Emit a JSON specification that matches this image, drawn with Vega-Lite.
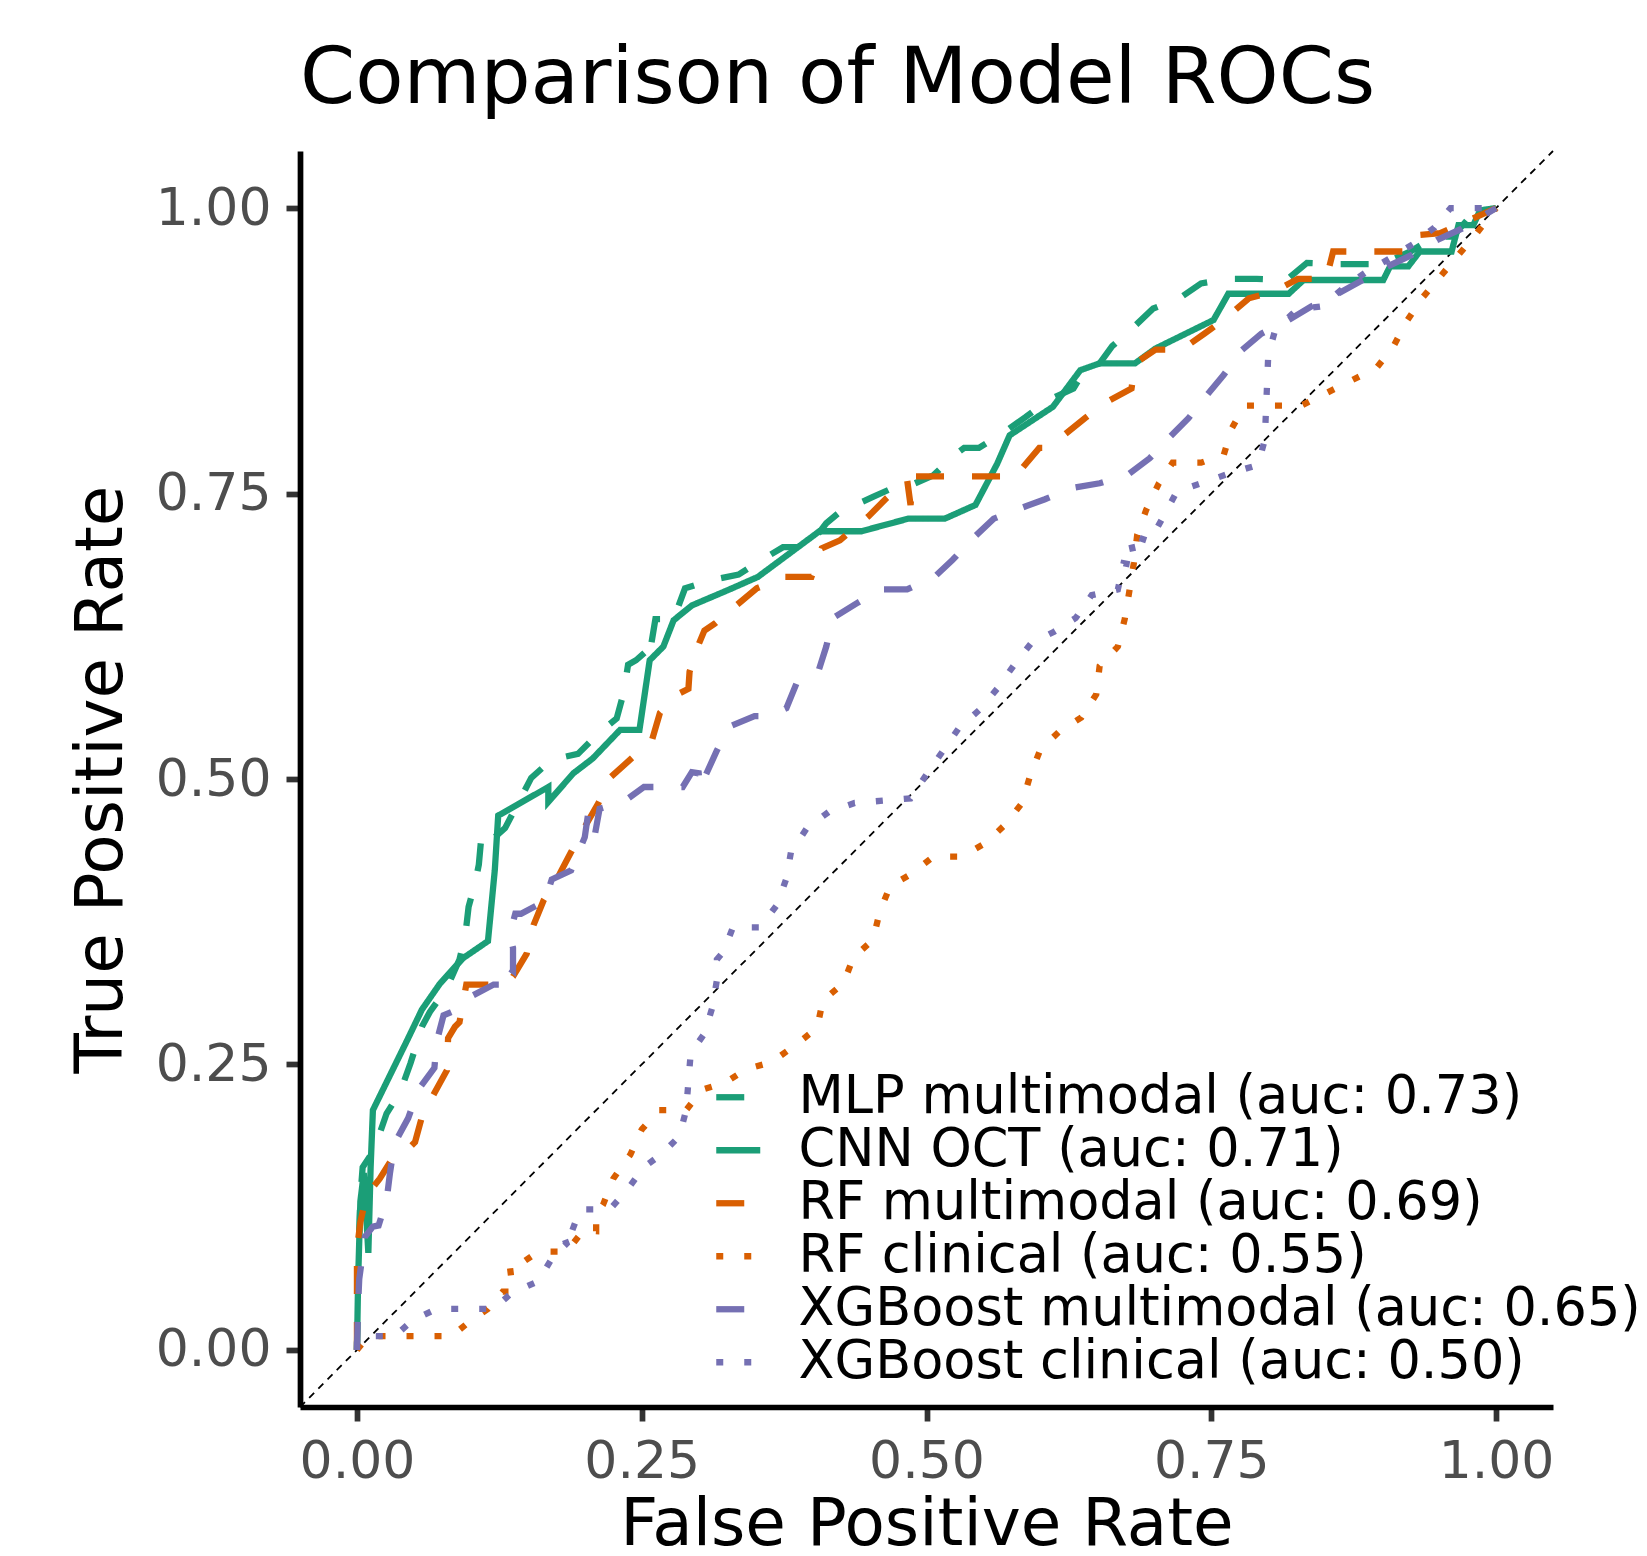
{
  "$schema": "https://vega.github.io/schema/vega-lite/v6.json",
  "width": 1253,
  "height": 1256,
  "autosize": {"type": "none"},
  "padding": {"left": 300, "top": 151, "right": 94, "bottom": 149},
  "background": "white",
  "title": {"text": "Comparison of Model ROCs", "anchor": "start", "frame": "group", "fontSize": 79, "font": "DejaVu Sans", "fontWeight": "normal", "color": "black", "baseline": "alphabetic", "offset": 30, "dy": 65},
  "config": {"view": {"stroke": null}, "font": "DejaVu Sans", "axis": {"grid": false}},
  "datasets": {
    "diag": [{"x": -0.05, "y": -0.05}, {"x": 1.05, "y": 1.05}],
    "roc": [
      {"m": "MLP multimodal (auc: 0.73)", "i": 0, "x": 0, "y": 0},
      {"m": "MLP multimodal (auc: 0.73)", "i": 1, "x": 0.001, "y": 0.07},
      {"m": "MLP multimodal (auc: 0.73)", "i": 2, "x": 0.003, "y": 0.134},
      {"m": "MLP multimodal (auc: 0.73)", "i": 3, "x": 0.005, "y": 0.16},
      {"m": "MLP multimodal (auc: 0.73)", "i": 4, "x": 0.015, "y": 0.175},
      {"m": "MLP multimodal (auc: 0.73)", "i": 5, "x": 0.026, "y": 0.207},
      {"m": "MLP multimodal (auc: 0.73)", "i": 6, "x": 0.038, "y": 0.226},
      {"m": "MLP multimodal (auc: 0.73)", "i": 7, "x": 0.047, "y": 0.251},
      {"m": "MLP multimodal (auc: 0.73)", "i": 8, "x": 0.054, "y": 0.273},
      {"m": "MLP multimodal (auc: 0.73)", "i": 9, "x": 0.057, "y": 0.283},
      {"m": "MLP multimodal (auc: 0.73)", "i": 10, "x": 0.064, "y": 0.296},
      {"m": "MLP multimodal (auc: 0.73)", "i": 11, "x": 0.079, "y": 0.317},
      {"m": "MLP multimodal (auc: 0.73)", "i": 12, "x": 0.090, "y": 0.342},
      {"m": "MLP multimodal (auc: 0.73)", "i": 13, "x": 0.095, "y": 0.362},
      {"m": "MLP multimodal (auc: 0.73)", "i": 14, "x": 0.098, "y": 0.388},
      {"m": "MLP multimodal (auc: 0.73)", "i": 15, "x": 0.104, "y": 0.410},
      {"m": "MLP multimodal (auc: 0.73)", "i": 16, "x": 0.107, "y": 0.425},
      {"m": "MLP multimodal (auc: 0.73)", "i": 17, "x": 0.109, "y": 0.447},
      {"m": "MLP multimodal (auc: 0.73)", "i": 18, "x": 0.111, "y": 0.440},
      {"m": "MLP multimodal (auc: 0.73)", "i": 19, "x": 0.130, "y": 0.457},
      {"m": "MLP multimodal (auc: 0.73)", "i": 20, "x": 0.140, "y": 0.476},
      {"m": "MLP multimodal (auc: 0.73)", "i": 21, "x": 0.153, "y": 0.501},
      {"m": "MLP multimodal (auc: 0.73)", "i": 22, "x": 0.171, "y": 0.517},
      {"m": "MLP multimodal (auc: 0.73)", "i": 23, "x": 0.194, "y": 0.522},
      {"m": "MLP multimodal (auc: 0.73)", "i": 24, "x": 0.212, "y": 0.540},
      {"m": "MLP multimodal (auc: 0.73)", "i": 25, "x": 0.228, "y": 0.553},
      {"m": "MLP multimodal (auc: 0.73)", "i": 26, "x": 0.234, "y": 0.575},
      {"m": "MLP multimodal (auc: 0.73)", "i": 27, "x": 0.238, "y": 0.600},
      {"m": "MLP multimodal (auc: 0.73)", "i": 28, "x": 0.245, "y": 0.604},
      {"m": "MLP multimodal (auc: 0.73)", "i": 29, "x": 0.253, "y": 0.611},
      {"m": "MLP multimodal (auc: 0.73)", "i": 30, "x": 0.256, "y": 0.604},
      {"m": "MLP multimodal (auc: 0.73)", "i": 31, "x": 0.262, "y": 0.640},
      {"m": "MLP multimodal (auc: 0.73)", "i": 32, "x": 0.278, "y": 0.640},
      {"m": "MLP multimodal (auc: 0.73)", "i": 33, "x": 0.288, "y": 0.667},
      {"m": "MLP multimodal (auc: 0.73)", "i": 34, "x": 0.310, "y": 0.674},
      {"m": "MLP multimodal (auc: 0.73)", "i": 35, "x": 0.335, "y": 0.679},
      {"m": "MLP multimodal (auc: 0.73)", "i": 36, "x": 0.352, "y": 0.690},
      {"m": "MLP multimodal (auc: 0.73)", "i": 37, "x": 0.374, "y": 0.703},
      {"m": "MLP multimodal (auc: 0.73)", "i": 38, "x": 0.396, "y": 0.703},
      {"m": "MLP multimodal (auc: 0.73)", "i": 39, "x": 0.412, "y": 0.724},
      {"m": "MLP multimodal (auc: 0.73)", "i": 40, "x": 0.424, "y": 0.734},
      {"m": "MLP multimodal (auc: 0.73)", "i": 41, "x": 0.453, "y": 0.747},
      {"m": "MLP multimodal (auc: 0.73)", "i": 42, "x": 0.475, "y": 0.757},
      {"m": "MLP multimodal (auc: 0.73)", "i": 43, "x": 0.490, "y": 0.759},
      {"m": "MLP multimodal (auc: 0.73)", "i": 44, "x": 0.506, "y": 0.766},
      {"m": "MLP multimodal (auc: 0.73)", "i": 45, "x": 0.525, "y": 0.784},
      {"m": "MLP multimodal (auc: 0.73)", "i": 46, "x": 0.533, "y": 0.790},
      {"m": "MLP multimodal (auc: 0.73)", "i": 47, "x": 0.546, "y": 0.790},
      {"m": "MLP multimodal (auc: 0.73)", "i": 48, "x": 0.567, "y": 0.803},
      {"m": "MLP multimodal (auc: 0.73)", "i": 49, "x": 0.587, "y": 0.817},
      {"m": "MLP multimodal (auc: 0.73)", "i": 50, "x": 0.607, "y": 0.832},
      {"m": "MLP multimodal (auc: 0.73)", "i": 51, "x": 0.629, "y": 0.842},
      {"m": "MLP multimodal (auc: 0.73)", "i": 52, "x": 0.640, "y": 0.860},
      {"m": "MLP multimodal (auc: 0.73)", "i": 53, "x": 0.652, "y": 0.864},
      {"m": "MLP multimodal (auc: 0.73)", "i": 54, "x": 0.663, "y": 0.879},
      {"m": "MLP multimodal (auc: 0.73)", "i": 55, "x": 0.680, "y": 0.894},
      {"m": "MLP multimodal (auc: 0.73)", "i": 56, "x": 0.699, "y": 0.912},
      {"m": "MLP multimodal (auc: 0.73)", "i": 57, "x": 0.722, "y": 0.921},
      {"m": "MLP multimodal (auc: 0.73)", "i": 58, "x": 0.741, "y": 0.934},
      {"m": "MLP multimodal (auc: 0.73)", "i": 59, "x": 0.765, "y": 0.938},
      {"m": "MLP multimodal (auc: 0.73)", "i": 60, "x": 0.790, "y": 0.938},
      {"m": "MLP multimodal (auc: 0.73)", "i": 61, "x": 0.816, "y": 0.937},
      {"m": "MLP multimodal (auc: 0.73)", "i": 62, "x": 0.834, "y": 0.952},
      {"m": "MLP multimodal (auc: 0.73)", "i": 63, "x": 0.860, "y": 0.951},
      {"m": "MLP multimodal (auc: 0.73)", "i": 64, "x": 0.900, "y": 0.951},
      {"m": "MLP multimodal (auc: 0.73)", "i": 65, "x": 0.925, "y": 0.962},
      {"m": "MLP multimodal (auc: 0.73)", "i": 66, "x": 0.946, "y": 0.975},
      {"m": "MLP multimodal (auc: 0.73)", "i": 67, "x": 0.962, "y": 0.975},
      {"m": "MLP multimodal (auc: 0.73)", "i": 68, "x": 0.975, "y": 0.990},
      {"m": "MLP multimodal (auc: 0.73)", "i": 69, "x": 1, "y": 1},

      {"m": "CNN OCT (auc: 0.71)", "i": 0, "x": 0, "y": 0},
      {"m": "CNN OCT (auc: 0.71)", "i": 1, "x": 0.001, "y": 0.06},
      {"m": "CNN OCT (auc: 0.71)", "i": 2, "x": 0.003, "y": 0.13},
      {"m": "CNN OCT (auc: 0.71)", "i": 3, "x": 0.006, "y": 0.155},
      {"m": "CNN OCT (auc: 0.71)", "i": 4, "x": 0.010, "y": 0.085},
      {"m": "CNN OCT (auc: 0.71)", "i": 5, "x": 0.012, "y": 0.16},
      {"m": "CNN OCT (auc: 0.71)", "i": 6, "x": 0.014, "y": 0.21},
      {"m": "CNN OCT (auc: 0.71)", "i": 7, "x": 0.044, "y": 0.271},
      {"m": "CNN OCT (auc: 0.71)", "i": 8, "x": 0.057, "y": 0.298},
      {"m": "CNN OCT (auc: 0.71)", "i": 9, "x": 0.073, "y": 0.321},
      {"m": "CNN OCT (auc: 0.71)", "i": 10, "x": 0.093, "y": 0.343},
      {"m": "CNN OCT (auc: 0.71)", "i": 11, "x": 0.115, "y": 0.358},
      {"m": "CNN OCT (auc: 0.71)", "i": 12, "x": 0.121, "y": 0.420},
      {"m": "CNN OCT (auc: 0.71)", "i": 13, "x": 0.124, "y": 0.468},
      {"m": "CNN OCT (auc: 0.71)", "i": 14, "x": 0.140, "y": 0.477},
      {"m": "CNN OCT (auc: 0.71)", "i": 15, "x": 0.168, "y": 0.493},
      {"m": "CNN OCT (auc: 0.71)", "i": 16, "x": 0.168, "y": 0.480},
      {"m": "CNN OCT (auc: 0.71)", "i": 17, "x": 0.190, "y": 0.505},
      {"m": "CNN OCT (auc: 0.71)", "i": 18, "x": 0.207, "y": 0.518},
      {"m": "CNN OCT (auc: 0.71)", "i": 19, "x": 0.231, "y": 0.543},
      {"m": "CNN OCT (auc: 0.71)", "i": 20, "x": 0.248, "y": 0.543},
      {"m": "CNN OCT (auc: 0.71)", "i": 21, "x": 0.257, "y": 0.604},
      {"m": "CNN OCT (auc: 0.71)", "i": 22, "x": 0.269, "y": 0.616},
      {"m": "CNN OCT (auc: 0.71)", "i": 23, "x": 0.278, "y": 0.639},
      {"m": "CNN OCT (auc: 0.71)", "i": 24, "x": 0.294, "y": 0.652},
      {"m": "CNN OCT (auc: 0.71)", "i": 25, "x": 0.327, "y": 0.666},
      {"m": "CNN OCT (auc: 0.71)", "i": 26, "x": 0.352, "y": 0.677},
      {"m": "CNN OCT (auc: 0.71)", "i": 27, "x": 0.406, "y": 0.717},
      {"m": "CNN OCT (auc: 0.71)", "i": 28, "x": 0.443, "y": 0.717},
      {"m": "CNN OCT (auc: 0.71)", "i": 29, "x": 0.484, "y": 0.728},
      {"m": "CNN OCT (auc: 0.71)", "i": 30, "x": 0.516, "y": 0.728},
      {"m": "CNN OCT (auc: 0.71)", "i": 31, "x": 0.543, "y": 0.740},
      {"m": "CNN OCT (auc: 0.71)", "i": 32, "x": 0.562, "y": 0.776},
      {"m": "CNN OCT (auc: 0.71)", "i": 33, "x": 0.573, "y": 0.801},
      {"m": "CNN OCT (auc: 0.71)", "i": 34, "x": 0.611, "y": 0.826},
      {"m": "CNN OCT (auc: 0.71)", "i": 35, "x": 0.635, "y": 0.858},
      {"m": "CNN OCT (auc: 0.71)", "i": 36, "x": 0.652, "y": 0.864},
      {"m": "CNN OCT (auc: 0.71)", "i": 37, "x": 0.683, "y": 0.864},
      {"m": "CNN OCT (auc: 0.71)", "i": 38, "x": 0.701, "y": 0.877},
      {"m": "CNN OCT (auc: 0.71)", "i": 39, "x": 0.752, "y": 0.902},
      {"m": "CNN OCT (auc: 0.71)", "i": 40, "x": 0.765, "y": 0.925},
      {"m": "CNN OCT (auc: 0.71)", "i": 41, "x": 0.818, "y": 0.925},
      {"m": "CNN OCT (auc: 0.71)", "i": 42, "x": 0.831, "y": 0.937},
      {"m": "CNN OCT (auc: 0.71)", "i": 43, "x": 0.901, "y": 0.937},
      {"m": "CNN OCT (auc: 0.71)", "i": 44, "x": 0.907, "y": 0.949},
      {"m": "CNN OCT (auc: 0.71)", "i": 45, "x": 0.923, "y": 0.949},
      {"m": "CNN OCT (auc: 0.71)", "i": 46, "x": 0.933, "y": 0.962},
      {"m": "CNN OCT (auc: 0.71)", "i": 47, "x": 0.961, "y": 0.962},
      {"m": "CNN OCT (auc: 0.71)", "i": 48, "x": 0.967, "y": 0.985},
      {"m": "CNN OCT (auc: 0.71)", "i": 49, "x": 0.980, "y": 0.985},
      {"m": "CNN OCT (auc: 0.71)", "i": 50, "x": 0.986, "y": 0.998},
      {"m": "CNN OCT (auc: 0.71)", "i": 51, "x": 1, "y": 1},

      {"m": "RF multimodal (auc: 0.69)", "i": 0, "x": 0, "y": 0},
      {"m": "RF multimodal (auc: 0.69)", "i": 1, "x": 0.000, "y": 0.088},
      {"m": "RF multimodal (auc: 0.69)", "i": 2, "x": 0.003, "y": 0.112},
      {"m": "RF multimodal (auc: 0.69)", "i": 3, "x": 0.008, "y": 0.134},
      {"m": "RF multimodal (auc: 0.69)", "i": 4, "x": 0.012, "y": 0.140},
      {"m": "RF multimodal (auc: 0.69)", "i": 5, "x": 0.020, "y": 0.150},
      {"m": "RF multimodal (auc: 0.69)", "i": 6, "x": 0.032, "y": 0.169},
      {"m": "RF multimodal (auc: 0.69)", "i": 7, "x": 0.045, "y": 0.176},
      {"m": "RF multimodal (auc: 0.69)", "i": 8, "x": 0.051, "y": 0.182},
      {"m": "RF multimodal (auc: 0.69)", "i": 9, "x": 0.057, "y": 0.204},
      {"m": "RF multimodal (auc: 0.69)", "i": 10, "x": 0.068, "y": 0.225},
      {"m": "RF multimodal (auc: 0.69)", "i": 11, "x": 0.079, "y": 0.245},
      {"m": "RF multimodal (auc: 0.69)", "i": 12, "x": 0.080, "y": 0.273},
      {"m": "RF multimodal (auc: 0.69)", "i": 13, "x": 0.086, "y": 0.283},
      {"m": "RF multimodal (auc: 0.69)", "i": 14, "x": 0.090, "y": 0.287},
      {"m": "RF multimodal (auc: 0.69)", "i": 15, "x": 0.096, "y": 0.320},
      {"m": "RF multimodal (auc: 0.69)", "i": 16, "x": 0.117, "y": 0.320},
      {"m": "RF multimodal (auc: 0.69)", "i": 17, "x": 0.130, "y": 0.320},
      {"m": "RF multimodal (auc: 0.69)", "i": 18, "x": 0.137, "y": 0.327},
      {"m": "RF multimodal (auc: 0.69)", "i": 19, "x": 0.149, "y": 0.347},
      {"m": "RF multimodal (auc: 0.69)", "i": 20, "x": 0.155, "y": 0.372},
      {"m": "RF multimodal (auc: 0.69)", "i": 21, "x": 0.164, "y": 0.394},
      {"m": "RF multimodal (auc: 0.69)", "i": 22, "x": 0.178, "y": 0.417},
      {"m": "RF multimodal (auc: 0.69)", "i": 23, "x": 0.188, "y": 0.436},
      {"m": "RF multimodal (auc: 0.69)", "i": 24, "x": 0.200, "y": 0.458},
      {"m": "RF multimodal (auc: 0.69)", "i": 25, "x": 0.212, "y": 0.479},
      {"m": "RF multimodal (auc: 0.69)", "i": 26, "x": 0.222, "y": 0.501},
      {"m": "RF multimodal (auc: 0.69)", "i": 27, "x": 0.241, "y": 0.518},
      {"m": "RF multimodal (auc: 0.69)", "i": 28, "x": 0.259, "y": 0.534},
      {"m": "RF multimodal (auc: 0.69)", "i": 29, "x": 0.266, "y": 0.558},
      {"m": "RF multimodal (auc: 0.69)", "i": 30, "x": 0.281, "y": 0.574},
      {"m": "RF multimodal (auc: 0.69)", "i": 31, "x": 0.291, "y": 0.579},
      {"m": "RF multimodal (auc: 0.69)", "i": 32, "x": 0.292, "y": 0.594},
      {"m": "RF multimodal (auc: 0.69)", "i": 33, "x": 0.300, "y": 0.618},
      {"m": "RF multimodal (auc: 0.69)", "i": 34, "x": 0.305, "y": 0.630},
      {"m": "RF multimodal (auc: 0.69)", "i": 35, "x": 0.314, "y": 0.636},
      {"m": "RF multimodal (auc: 0.69)", "i": 36, "x": 0.333, "y": 0.652},
      {"m": "RF multimodal (auc: 0.69)", "i": 37, "x": 0.351, "y": 0.667},
      {"m": "RF multimodal (auc: 0.69)", "i": 38, "x": 0.376, "y": 0.677},
      {"m": "RF multimodal (auc: 0.69)", "i": 39, "x": 0.399, "y": 0.677},
      {"m": "RF multimodal (auc: 0.69)", "i": 40, "x": 0.408, "y": 0.702},
      {"m": "RF multimodal (auc: 0.69)", "i": 41, "x": 0.424, "y": 0.709},
      {"m": "RF multimodal (auc: 0.69)", "i": 42, "x": 0.449, "y": 0.730},
      {"m": "RF multimodal (auc: 0.69)", "i": 43, "x": 0.465, "y": 0.746},
      {"m": "RF multimodal (auc: 0.69)", "i": 44, "x": 0.483, "y": 0.762},
      {"m": "RF multimodal (auc: 0.69)", "i": 45, "x": 0.486, "y": 0.740},
      {"m": "RF multimodal (auc: 0.69)", "i": 46, "x": 0.488, "y": 0.765},
      {"m": "RF multimodal (auc: 0.69)", "i": 47, "x": 0.537, "y": 0.765},
      {"m": "RF multimodal (auc: 0.69)", "i": 48, "x": 0.579, "y": 0.765},
      {"m": "RF multimodal (auc: 0.69)", "i": 49, "x": 0.583, "y": 0.771},
      {"m": "RF multimodal (auc: 0.69)", "i": 50, "x": 0.599, "y": 0.790},
      {"m": "RF multimodal (auc: 0.69)", "i": 51, "x": 0.605, "y": 0.790},
      {"m": "RF multimodal (auc: 0.69)", "i": 52, "x": 0.618, "y": 0.799},
      {"m": "RF multimodal (auc: 0.69)", "i": 53, "x": 0.639, "y": 0.816},
      {"m": "RF multimodal (auc: 0.69)", "i": 54, "x": 0.656, "y": 0.829},
      {"m": "RF multimodal (auc: 0.69)", "i": 55, "x": 0.680, "y": 0.842},
      {"m": "RF multimodal (auc: 0.69)", "i": 56, "x": 0.683, "y": 0.864},
      {"m": "RF multimodal (auc: 0.69)", "i": 57, "x": 0.701, "y": 0.876},
      {"m": "RF multimodal (auc: 0.69)", "i": 58, "x": 0.724, "y": 0.876},
      {"m": "RF multimodal (auc: 0.69)", "i": 59, "x": 0.744, "y": 0.890},
      {"m": "RF multimodal (auc: 0.69)", "i": 60, "x": 0.762, "y": 0.903},
      {"m": "RF multimodal (auc: 0.69)", "i": 61, "x": 0.783, "y": 0.921},
      {"m": "RF multimodal (auc: 0.69)", "i": 62, "x": 0.805, "y": 0.927},
      {"m": "RF multimodal (auc: 0.69)", "i": 63, "x": 0.826, "y": 0.938},
      {"m": "RF multimodal (auc: 0.69)", "i": 64, "x": 0.851, "y": 0.938},
      {"m": "RF multimodal (auc: 0.69)", "i": 65, "x": 0.857, "y": 0.962},
      {"m": "RF multimodal (auc: 0.69)", "i": 66, "x": 0.919, "y": 0.962},
      {"m": "RF multimodal (auc: 0.69)", "i": 67, "x": 0.926, "y": 0.976},
      {"m": "RF multimodal (auc: 0.69)", "i": 68, "x": 0.951, "y": 0.978},
      {"m": "RF multimodal (auc: 0.69)", "i": 69, "x": 0.973, "y": 0.988},
      {"m": "RF multimodal (auc: 0.69)", "i": 70, "x": 1, "y": 1},

      {"m": "RF clinical (auc: 0.55)", "i": 0, "x": 0, "y": 0},
      {"m": "RF clinical (auc: 0.55)", "i": 1, "x": 0.010, "y": 0.012},
      {"m": "RF clinical (auc: 0.55)", "i": 2, "x": 0.083, "y": 0.012},
      {"m": "RF clinical (auc: 0.55)", "i": 3, "x": 0.099, "y": 0.025},
      {"m": "RF clinical (auc: 0.55)", "i": 4, "x": 0.115, "y": 0.036},
      {"m": "RF clinical (auc: 0.55)", "i": 5, "x": 0.128, "y": 0.051},
      {"m": "RF clinical (auc: 0.55)", "i": 6, "x": 0.137, "y": 0.051},
      {"m": "RF clinical (auc: 0.55)", "i": 7, "x": 0.134, "y": 0.075},
      {"m": "RF clinical (auc: 0.55)", "i": 8, "x": 0.143, "y": 0.075},
      {"m": "RF clinical (auc: 0.55)", "i": 9, "x": 0.159, "y": 0.086},
      {"m": "RF clinical (auc: 0.55)", "i": 10, "x": 0.184, "y": 0.086},
      {"m": "RF clinical (auc: 0.55)", "i": 11, "x": 0.199, "y": 0.105},
      {"m": "RF clinical (auc: 0.55)", "i": 12, "x": 0.210, "y": 0.104},
      {"m": "RF clinical (auc: 0.55)", "i": 13, "x": 0.210, "y": 0.118},
      {"m": "RF clinical (auc: 0.55)", "i": 14, "x": 0.216, "y": 0.127},
      {"m": "RF clinical (auc: 0.55)", "i": 15, "x": 0.225, "y": 0.150},
      {"m": "RF clinical (auc: 0.55)", "i": 16, "x": 0.240, "y": 0.171},
      {"m": "RF clinical (auc: 0.55)", "i": 17, "x": 0.250, "y": 0.193},
      {"m": "RF clinical (auc: 0.55)", "i": 18, "x": 0.265, "y": 0.210},
      {"m": "RF clinical (auc: 0.55)", "i": 19, "x": 0.289, "y": 0.210},
      {"m": "RF clinical (auc: 0.55)", "i": 20, "x": 0.303, "y": 0.228},
      {"m": "RF clinical (auc: 0.55)", "i": 21, "x": 0.323, "y": 0.234},
      {"m": "RF clinical (auc: 0.55)", "i": 22, "x": 0.342, "y": 0.246},
      {"m": "RF clinical (auc: 0.55)", "i": 23, "x": 0.364, "y": 0.252},
      {"m": "RF clinical (auc: 0.55)", "i": 24, "x": 0.385, "y": 0.267},
      {"m": "RF clinical (auc: 0.55)", "i": 25, "x": 0.404, "y": 0.282},
      {"m": "RF clinical (auc: 0.55)", "i": 26, "x": 0.409, "y": 0.306},
      {"m": "RF clinical (auc: 0.55)", "i": 27, "x": 0.427, "y": 0.321},
      {"m": "RF clinical (auc: 0.55)", "i": 28, "x": 0.436, "y": 0.344},
      {"m": "RF clinical (auc: 0.55)", "i": 29, "x": 0.453, "y": 0.359},
      {"m": "RF clinical (auc: 0.55)", "i": 30, "x": 0.459, "y": 0.384},
      {"m": "RF clinical (auc: 0.55)", "i": 31, "x": 0.468, "y": 0.406},
      {"m": "RF clinical (auc: 0.55)", "i": 32, "x": 0.487, "y": 0.417},
      {"m": "RF clinical (auc: 0.55)", "i": 33, "x": 0.506, "y": 0.432},
      {"m": "RF clinical (auc: 0.55)", "i": 34, "x": 0.531, "y": 0.432},
      {"m": "RF clinical (auc: 0.55)", "i": 35, "x": 0.552, "y": 0.444},
      {"m": "RF clinical (auc: 0.55)", "i": 36, "x": 0.569, "y": 0.460},
      {"m": "RF clinical (auc: 0.55)", "i": 37, "x": 0.584, "y": 0.479},
      {"m": "RF clinical (auc: 0.55)", "i": 38, "x": 0.591, "y": 0.503},
      {"m": "RF clinical (auc: 0.55)", "i": 39, "x": 0.600, "y": 0.526},
      {"m": "RF clinical (auc: 0.55)", "i": 40, "x": 0.617, "y": 0.542},
      {"m": "RF clinical (auc: 0.55)", "i": 41, "x": 0.636, "y": 0.554},
      {"m": "RF clinical (auc: 0.55)", "i": 42, "x": 0.649, "y": 0.574},
      {"m": "RF clinical (auc: 0.55)", "i": 43, "x": 0.652, "y": 0.599},
      {"m": "RF clinical (auc: 0.55)", "i": 44, "x": 0.668, "y": 0.616},
      {"m": "RF clinical (auc: 0.55)", "i": 45, "x": 0.674, "y": 0.640},
      {"m": "RF clinical (auc: 0.55)", "i": 46, "x": 0.678, "y": 0.664},
      {"m": "RF clinical (auc: 0.55)", "i": 47, "x": 0.682, "y": 0.689},
      {"m": "RF clinical (auc: 0.55)", "i": 48, "x": 0.685, "y": 0.714},
      {"m": "RF clinical (auc: 0.55)", "i": 49, "x": 0.693, "y": 0.736},
      {"m": "RF clinical (auc: 0.55)", "i": 50, "x": 0.704, "y": 0.759},
      {"m": "RF clinical (auc: 0.55)", "i": 51, "x": 0.716, "y": 0.777},
      {"m": "RF clinical (auc: 0.55)", "i": 52, "x": 0.741, "y": 0.777},
      {"m": "RF clinical (auc: 0.55)", "i": 53, "x": 0.761, "y": 0.784},
      {"m": "RF clinical (auc: 0.55)", "i": 54, "x": 0.768, "y": 0.807},
      {"m": "RF clinical (auc: 0.55)", "i": 55, "x": 0.779, "y": 0.827},
      {"m": "RF clinical (auc: 0.55)", "i": 56, "x": 0.829, "y": 0.827},
      {"m": "RF clinical (auc: 0.55)", "i": 57, "x": 0.851, "y": 0.838},
      {"m": "RF clinical (auc: 0.55)", "i": 58, "x": 0.873, "y": 0.849},
      {"m": "RF clinical (auc: 0.55)", "i": 59, "x": 0.895, "y": 0.860},
      {"m": "RF clinical (auc: 0.55)", "i": 60, "x": 0.910, "y": 0.879},
      {"m": "RF clinical (auc: 0.55)", "i": 61, "x": 0.921, "y": 0.900},
      {"m": "RF clinical (auc: 0.55)", "i": 62, "x": 0.935, "y": 0.921},
      {"m": "RF clinical (auc: 0.55)", "i": 63, "x": 0.951, "y": 0.940},
      {"m": "RF clinical (auc: 0.55)", "i": 64, "x": 0.967, "y": 0.959},
      {"m": "RF clinical (auc: 0.55)", "i": 65, "x": 0.983, "y": 0.978},
      {"m": "RF clinical (auc: 0.55)", "i": 66, "x": 1, "y": 1},

      {"m": "XGBoost multimodal (auc: 0.65)", "i": 0, "x": 0, "y": 0},
      {"m": "XGBoost multimodal (auc: 0.65)", "i": 1, "x": 0.001, "y": 0.040},
      {"m": "XGBoost multimodal (auc: 0.65)", "i": 2, "x": 0.002, "y": 0.062},
      {"m": "XGBoost multimodal (auc: 0.65)", "i": 3, "x": 0.007, "y": 0.099},
      {"m": "XGBoost multimodal (auc: 0.65)", "i": 4, "x": 0.014, "y": 0.108},
      {"m": "XGBoost multimodal (auc: 0.65)", "i": 5, "x": 0.019, "y": 0.109},
      {"m": "XGBoost multimodal (auc: 0.65)", "i": 6, "x": 0.026, "y": 0.131},
      {"m": "XGBoost multimodal (auc: 0.65)", "i": 7, "x": 0.029, "y": 0.155},
      {"m": "XGBoost multimodal (auc: 0.65)", "i": 8, "x": 0.033, "y": 0.181},
      {"m": "XGBoost multimodal (auc: 0.65)", "i": 9, "x": 0.045, "y": 0.203},
      {"m": "XGBoost multimodal (auc: 0.65)", "i": 10, "x": 0.054, "y": 0.228},
      {"m": "XGBoost multimodal (auc: 0.65)", "i": 11, "x": 0.068, "y": 0.247},
      {"m": "XGBoost multimodal (auc: 0.65)", "i": 12, "x": 0.070, "y": 0.270},
      {"m": "XGBoost multimodal (auc: 0.65)", "i": 13, "x": 0.076, "y": 0.293},
      {"m": "XGBoost multimodal (auc: 0.65)", "i": 14, "x": 0.083, "y": 0.296},
      {"m": "XGBoost multimodal (auc: 0.65)", "i": 15, "x": 0.099, "y": 0.309},
      {"m": "XGBoost multimodal (auc: 0.65)", "i": 16, "x": 0.120, "y": 0.320},
      {"m": "XGBoost multimodal (auc: 0.65)", "i": 17, "x": 0.126, "y": 0.320},
      {"m": "XGBoost multimodal (auc: 0.65)", "i": 18, "x": 0.130, "y": 0.337},
      {"m": "XGBoost multimodal (auc: 0.65)", "i": 19, "x": 0.137, "y": 0.332},
      {"m": "XGBoost multimodal (auc: 0.65)", "i": 20, "x": 0.137, "y": 0.352},
      {"m": "XGBoost multimodal (auc: 0.65)", "i": 21, "x": 0.134, "y": 0.364},
      {"m": "XGBoost multimodal (auc: 0.65)", "i": 22, "x": 0.139, "y": 0.382},
      {"m": "XGBoost multimodal (auc: 0.65)", "i": 23, "x": 0.144, "y": 0.382},
      {"m": "XGBoost multimodal (auc: 0.65)", "i": 24, "x": 0.165, "y": 0.393},
      {"m": "XGBoost multimodal (auc: 0.65)", "i": 25, "x": 0.171, "y": 0.412},
      {"m": "XGBoost multimodal (auc: 0.65)", "i": 26, "x": 0.188, "y": 0.420},
      {"m": "XGBoost multimodal (auc: 0.65)", "i": 27, "x": 0.200, "y": 0.449},
      {"m": "XGBoost multimodal (auc: 0.65)", "i": 28, "x": 0.203, "y": 0.470},
      {"m": "XGBoost multimodal (auc: 0.65)", "i": 29, "x": 0.206, "y": 0.452},
      {"m": "XGBoost multimodal (auc: 0.65)", "i": 30, "x": 0.209, "y": 0.452},
      {"m": "XGBoost multimodal (auc: 0.65)", "i": 31, "x": 0.213, "y": 0.474},
      {"m": "XGBoost multimodal (auc: 0.65)", "i": 32, "x": 0.234, "y": 0.480},
      {"m": "XGBoost multimodal (auc: 0.65)", "i": 33, "x": 0.252, "y": 0.493},
      {"m": "XGBoost multimodal (auc: 0.65)", "i": 34, "x": 0.286, "y": 0.493},
      {"m": "XGBoost multimodal (auc: 0.65)", "i": 35, "x": 0.294, "y": 0.506},
      {"m": "XGBoost multimodal (auc: 0.65)", "i": 36, "x": 0.300, "y": 0.505},
      {"m": "XGBoost multimodal (auc: 0.65)", "i": 37, "x": 0.301, "y": 0.492},
      {"m": "XGBoost multimodal (auc: 0.65)", "i": 38, "x": 0.316, "y": 0.525},
      {"m": "XGBoost multimodal (auc: 0.65)", "i": 39, "x": 0.327, "y": 0.546},
      {"m": "XGBoost multimodal (auc: 0.65)", "i": 40, "x": 0.349, "y": 0.555},
      {"m": "XGBoost multimodal (auc: 0.65)", "i": 41, "x": 0.362, "y": 0.555},
      {"m": "XGBoost multimodal (auc: 0.65)", "i": 42, "x": 0.377, "y": 0.562},
      {"m": "XGBoost multimodal (auc: 0.65)", "i": 43, "x": 0.386, "y": 0.584},
      {"m": "XGBoost multimodal (auc: 0.65)", "i": 44, "x": 0.405, "y": 0.594},
      {"m": "XGBoost multimodal (auc: 0.65)", "i": 45, "x": 0.412, "y": 0.616},
      {"m": "XGBoost multimodal (auc: 0.65)", "i": 46, "x": 0.418, "y": 0.641},
      {"m": "XGBoost multimodal (auc: 0.65)", "i": 47, "x": 0.439, "y": 0.654},
      {"m": "XGBoost multimodal (auc: 0.65)", "i": 48, "x": 0.459, "y": 0.666},
      {"m": "XGBoost multimodal (auc: 0.65)", "i": 49, "x": 0.483, "y": 0.666},
      {"m": "XGBoost multimodal (auc: 0.65)", "i": 50, "x": 0.507, "y": 0.677},
      {"m": "XGBoost multimodal (auc: 0.65)", "i": 51, "x": 0.523, "y": 0.692},
      {"m": "XGBoost multimodal (auc: 0.65)", "i": 52, "x": 0.541, "y": 0.711},
      {"m": "XGBoost multimodal (auc: 0.65)", "i": 53, "x": 0.559, "y": 0.728},
      {"m": "XGBoost multimodal (auc: 0.65)", "i": 54, "x": 0.582, "y": 0.737},
      {"m": "XGBoost multimodal (auc: 0.65)", "i": 55, "x": 0.604, "y": 0.745},
      {"m": "XGBoost multimodal (auc: 0.65)", "i": 56, "x": 0.629, "y": 0.755},
      {"m": "XGBoost multimodal (auc: 0.65)", "i": 57, "x": 0.652, "y": 0.759},
      {"m": "XGBoost multimodal (auc: 0.65)", "i": 58, "x": 0.676, "y": 0.766},
      {"m": "XGBoost multimodal (auc: 0.65)", "i": 59, "x": 0.696, "y": 0.781},
      {"m": "XGBoost multimodal (auc: 0.65)", "i": 60, "x": 0.712, "y": 0.798},
      {"m": "XGBoost multimodal (auc: 0.65)", "i": 61, "x": 0.730, "y": 0.816},
      {"m": "XGBoost multimodal (auc: 0.65)", "i": 62, "x": 0.746, "y": 0.836},
      {"m": "XGBoost multimodal (auc: 0.65)", "i": 63, "x": 0.761, "y": 0.854},
      {"m": "XGBoost multimodal (auc: 0.65)", "i": 64, "x": 0.775, "y": 0.874},
      {"m": "XGBoost multimodal (auc: 0.65)", "i": 65, "x": 0.794, "y": 0.890},
      {"m": "XGBoost multimodal (auc: 0.65)", "i": 66, "x": 0.818, "y": 0.902},
      {"m": "XGBoost multimodal (auc: 0.65)", "i": 67, "x": 0.838, "y": 0.914},
      {"m": "XGBoost multimodal (auc: 0.65)", "i": 68, "x": 0.861, "y": 0.925},
      {"m": "XGBoost multimodal (auc: 0.65)", "i": 69, "x": 0.883, "y": 0.937},
      {"m": "XGBoost multimodal (auc: 0.65)", "i": 70, "x": 0.905, "y": 0.949},
      {"m": "XGBoost multimodal (auc: 0.65)", "i": 71, "x": 0.926, "y": 0.959},
      {"m": "XGBoost multimodal (auc: 0.65)", "i": 72, "x": 0.948, "y": 0.972},
      {"m": "XGBoost multimodal (auc: 0.65)", "i": 73, "x": 0.970, "y": 0.982},
      {"m": "XGBoost multimodal (auc: 0.65)", "i": 74, "x": 1, "y": 1},

      {"m": "XGBoost clinical (auc: 0.50)", "i": 0, "x": 0, "y": 0},
      {"m": "XGBoost clinical (auc: 0.50)", "i": 1, "x": 0.000, "y": 0.006},
      {"m": "XGBoost clinical (auc: 0.50)", "i": 2, "x": 0.008, "y": 0.012},
      {"m": "XGBoost clinical (auc: 0.50)", "i": 3, "x": 0.033, "y": 0.012},
      {"m": "XGBoost clinical (auc: 0.50)", "i": 4, "x": 0.049, "y": 0.026},
      {"m": "XGBoost clinical (auc: 0.50)", "i": 5, "x": 0.070, "y": 0.036},
      {"m": "XGBoost clinical (auc: 0.50)", "i": 6, "x": 0.120, "y": 0.036},
      {"m": "XGBoost clinical (auc: 0.50)", "i": 7, "x": 0.136, "y": 0.050},
      {"m": "XGBoost clinical (auc: 0.50)", "i": 8, "x": 0.159, "y": 0.060},
      {"m": "XGBoost clinical (auc: 0.50)", "i": 9, "x": 0.171, "y": 0.080},
      {"m": "XGBoost clinical (auc: 0.50)", "i": 10, "x": 0.184, "y": 0.093},
      {"m": "XGBoost clinical (auc: 0.50)", "i": 11, "x": 0.180, "y": 0.103},
      {"m": "XGBoost clinical (auc: 0.50)", "i": 12, "x": 0.188, "y": 0.102},
      {"m": "XGBoost clinical (auc: 0.50)", "i": 13, "x": 0.196, "y": 0.123},
      {"m": "XGBoost clinical (auc: 0.50)", "i": 14, "x": 0.222, "y": 0.123},
      {"m": "XGBoost clinical (auc: 0.50)", "i": 15, "x": 0.237, "y": 0.140},
      {"m": "XGBoost clinical (auc: 0.50)", "i": 16, "x": 0.252, "y": 0.160},
      {"m": "XGBoost clinical (auc: 0.50)", "i": 17, "x": 0.268, "y": 0.172},
      {"m": "XGBoost clinical (auc: 0.50)", "i": 18, "x": 0.283, "y": 0.187},
      {"m": "XGBoost clinical (auc: 0.50)", "i": 19, "x": 0.289, "y": 0.210},
      {"m": "XGBoost clinical (auc: 0.50)", "i": 20, "x": 0.291, "y": 0.235},
      {"m": "XGBoost clinical (auc: 0.50)", "i": 21, "x": 0.293, "y": 0.260},
      {"m": "XGBoost clinical (auc: 0.50)", "i": 22, "x": 0.305, "y": 0.277},
      {"m": "XGBoost clinical (auc: 0.50)", "i": 23, "x": 0.312, "y": 0.300},
      {"m": "XGBoost clinical (auc: 0.50)", "i": 24, "x": 0.316, "y": 0.324},
      {"m": "XGBoost clinical (auc: 0.50)", "i": 25, "x": 0.316, "y": 0.342},
      {"m": "XGBoost clinical (auc: 0.50)", "i": 26, "x": 0.322, "y": 0.349},
      {"m": "XGBoost clinical (auc: 0.50)", "i": 27, "x": 0.330, "y": 0.370},
      {"m": "XGBoost clinical (auc: 0.50)", "i": 28, "x": 0.354, "y": 0.370},
      {"m": "XGBoost clinical (auc: 0.50)", "i": 29, "x": 0.369, "y": 0.390},
      {"m": "XGBoost clinical (auc: 0.50)", "i": 30, "x": 0.377, "y": 0.413},
      {"m": "XGBoost clinical (auc: 0.50)", "i": 31, "x": 0.381, "y": 0.436},
      {"m": "XGBoost clinical (auc: 0.50)", "i": 32, "x": 0.395, "y": 0.457},
      {"m": "XGBoost clinical (auc: 0.50)", "i": 33, "x": 0.414, "y": 0.471},
      {"m": "XGBoost clinical (auc: 0.50)", "i": 34, "x": 0.437, "y": 0.479},
      {"m": "XGBoost clinical (auc: 0.50)", "i": 35, "x": 0.486, "y": 0.483},
      {"m": "XGBoost clinical (auc: 0.50)", "i": 36, "x": 0.500, "y": 0.504},
      {"m": "XGBoost clinical (auc: 0.50)", "i": 37, "x": 0.514, "y": 0.524},
      {"m": "XGBoost clinical (auc: 0.50)", "i": 38, "x": 0.528, "y": 0.544},
      {"m": "XGBoost clinical (auc: 0.50)", "i": 39, "x": 0.547, "y": 0.561},
      {"m": "XGBoost clinical (auc: 0.50)", "i": 40, "x": 0.562, "y": 0.579},
      {"m": "XGBoost clinical (auc: 0.50)", "i": 41, "x": 0.577, "y": 0.600},
      {"m": "XGBoost clinical (auc: 0.50)", "i": 42, "x": 0.592, "y": 0.619},
      {"m": "XGBoost clinical (auc: 0.50)", "i": 43, "x": 0.612, "y": 0.629},
      {"m": "XGBoost clinical (auc: 0.50)", "i": 44, "x": 0.631, "y": 0.641},
      {"m": "XGBoost clinical (auc: 0.50)", "i": 45, "x": 0.645, "y": 0.661},
      {"m": "XGBoost clinical (auc: 0.50)", "i": 46, "x": 0.668, "y": 0.666},
      {"m": "XGBoost clinical (auc: 0.50)", "i": 47, "x": 0.673, "y": 0.689},
      {"m": "XGBoost clinical (auc: 0.50)", "i": 48, "x": 0.684, "y": 0.687},
      {"m": "XGBoost clinical (auc: 0.50)", "i": 49, "x": 0.678, "y": 0.714},
      {"m": "XGBoost clinical (auc: 0.50)", "i": 50, "x": 0.696, "y": 0.708},
      {"m": "XGBoost clinical (auc: 0.50)", "i": 51, "x": 0.708, "y": 0.730},
      {"m": "XGBoost clinical (auc: 0.50)", "i": 52, "x": 0.720, "y": 0.752},
      {"m": "XGBoost clinical (auc: 0.50)", "i": 53, "x": 0.744, "y": 0.760},
      {"m": "XGBoost clinical (auc: 0.50)", "i": 54, "x": 0.767, "y": 0.768},
      {"m": "XGBoost clinical (auc: 0.50)", "i": 55, "x": 0.791, "y": 0.775},
      {"m": "XGBoost clinical (auc: 0.50)", "i": 56, "x": 0.797, "y": 0.797},
      {"m": "XGBoost clinical (auc: 0.50)", "i": 57, "x": 0.798, "y": 0.822},
      {"m": "XGBoost clinical (auc: 0.50)", "i": 58, "x": 0.799, "y": 0.846},
      {"m": "XGBoost clinical (auc: 0.50)", "i": 59, "x": 0.800, "y": 0.871},
      {"m": "XGBoost clinical (auc: 0.50)", "i": 60, "x": 0.806, "y": 0.893},
      {"m": "XGBoost clinical (auc: 0.50)", "i": 61, "x": 0.825, "y": 0.911},
      {"m": "XGBoost clinical (auc: 0.50)", "i": 62, "x": 0.847, "y": 0.914},
      {"m": "XGBoost clinical (auc: 0.50)", "i": 63, "x": 0.866, "y": 0.930},
      {"m": "XGBoost clinical (auc: 0.50)", "i": 64, "x": 0.886, "y": 0.944},
      {"m": "XGBoost clinical (auc: 0.50)", "i": 65, "x": 0.907, "y": 0.956},
      {"m": "XGBoost clinical (auc: 0.50)", "i": 66, "x": 0.928, "y": 0.969},
      {"m": "XGBoost clinical (auc: 0.50)", "i": 67, "x": 0.946, "y": 0.983},
      {"m": "XGBoost clinical (auc: 0.50)", "i": 68, "x": 0.960, "y": 1.0},
      {"m": "XGBoost clinical (auc: 0.50)", "i": 69, "x": 0.985, "y": 1.0},
      {"m": "XGBoost clinical (auc: 0.50)", "i": 70, "x": 1, "y": 1}
    ]
  },
  "encoding": {
    "x": {
      "field": "x", "type": "quantitative",
      "scale": {"domain": [-0.05, 1.05], "nice": false, "zero": false},
      "axis": {
        "values": [0, 0.25, 0.5, 0.75, 1], "format": ".2f",
        "title": "False Positive Rate", "titleFontSize": 66, "titleFontWeight": "normal", "titleColor": "black", "titleFont": "DejaVu Sans", "titlePadding": 5,
        "labelFontSize": 52, "labelColor": "#4D4D4D", "labelFont": "DejaVu Sans", "labelPadding": 15, "labelFlush": false, "labelOverlap": false,
        "tickColor": "#333333", "tickWidth": 5.7, "tickSize": 14,
        "domainColor": "black", "domainWidth": 5.7, "grid": false
      }
    },
    "y": {
      "field": "y", "type": "quantitative",
      "scale": {"domain": [-0.05, 1.05], "nice": false, "zero": false},
      "axis": {
        "values": [0, 0.25, 0.5, 0.75, 1], "format": ".2f",
        "title": "True Positive Rate", "titleFontSize": 66, "titleFontWeight": "normal", "titleColor": "black", "titleFont": "DejaVu Sans", "titlePadding": 20,
        "labelFontSize": 52, "labelColor": "#4D4D4D", "labelFont": "DejaVu Sans", "labelPadding": 15, "labelFlush": false, "labelOverlap": false,
        "tickColor": "#333333", "tickWidth": 5.7, "tickSize": 14,
        "domainColor": "black", "domainWidth": 5.7, "grid": false
      }
    }
  },
  "layer": [
    {
      "data": {"name": "diag"},
      "mark": {"type": "line", "color": "black", "strokeWidth": 1.8, "strokeDash": [7, 6]}
    },
    {
      "data": {"name": "roc"},
      "mark": {"type": "line", "strokeWidth": 6.3},
      "encoding": {
        "color": {
          "field": "m", "type": "nominal",
          "scale": {
            "domain": ["MLP multimodal (auc: 0.73)", "CNN OCT (auc: 0.71)", "RF multimodal (auc: 0.69)", "RF clinical (auc: 0.55)", "XGBoost multimodal (auc: 0.65)", "XGBoost clinical (auc: 0.50)"],
            "range": ["#1B9E77", "#1B9E77", "#D95F02", "#D95F02", "#7570B3", "#7570B3"]
          },
          "legend": {"orient": "none", "legendX": 412, "legendY": 920, "title": null, "labelFontSize": 52.5, "labelColor": "black", "labelFont": "DejaVu Sans", "symbolType": "stroke", "symbolSize": 1936, "symbolStrokeWidth": 6.3, "labelOffset": 34, "rowPadding": 0, "padding": 0, "labelLimit": 2000}
        },
        "strokeDash": {
          "field": "m", "type": "nominal",
          "scale": {
            "domain": ["MLP multimodal (auc: 0.73)", "CNN OCT (auc: 0.71)", "RF multimodal (auc: 0.69)", "RF clinical (auc: 0.55)", "XGBoost multimodal (auc: 0.65)", "XGBoost clinical (auc: 0.50)"],
            "range": [[28, 28], [1, 0], [28, 28], [7, 21], [28, 28], [7, 21]]
          },
          "legend": {"orient": "none", "legendX": 412, "legendY": 920, "title": null, "labelFontSize": 52.5, "labelColor": "black", "labelFont": "DejaVu Sans", "symbolType": "stroke", "symbolSize": 1936, "symbolStrokeWidth": 6.3, "labelOffset": 34, "rowPadding": 0, "padding": 0, "labelLimit": 2000}
        },
        "order": {"field": "i", "type": "quantitative"}
      }
    }
  ]
}
